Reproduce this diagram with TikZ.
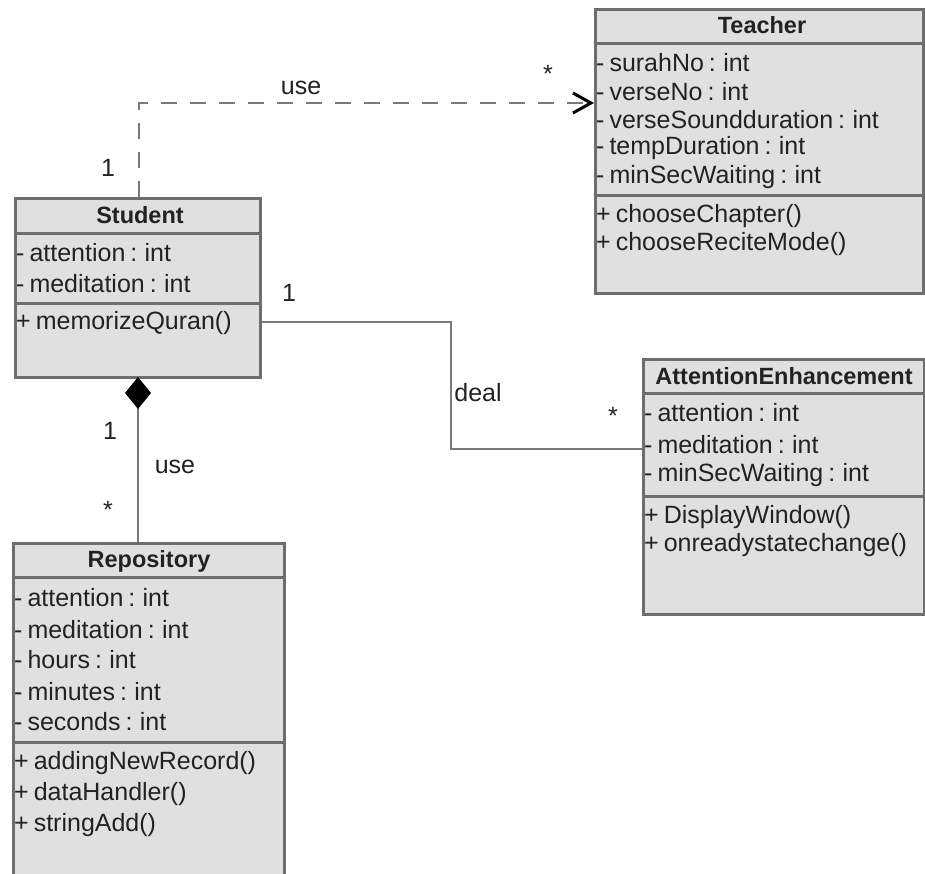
\documentclass[tikz,border=0pt]{standalone}
\usepackage{fontspec}
\setmainfont{Liberation Sans}
\usetikzlibrary{arrows.meta,calc}
\definecolor{boxfill}{HTML}{E0E0E0}
\definecolor{boxline}{HTML}{6E6E6E}
\definecolor{linkline}{HTML}{7A7A7A}
\definecolor{inkc}{HTML}{222222}
\newcommand{\memberfont}{\fontsize{25}{29}\selectfont\spaceskip=0.2em\relax}
\tikzset{
  classbox/.style={draw=boxline, line width=3pt, fill=boxfill, rectangle, inner sep=0pt, anchor=north west},
  divider/.style={draw=boxline, line width=3pt},
  member/.style={anchor=west, inner sep=0pt, text=inkc, font=\memberfont},
  ctitle/.style={inner sep=0pt, text=inkc, font=\fontsize{23.5}{28}\selectfont\bfseries},
  lbl/.style={inner sep=0pt, text=inkc, font=\fontsize{25}{29}\selectfont},
  link/.style={draw=linkline, line width=2.5pt},
  dep/.style={link, dash pattern=on 16pt off 13pt, -{Straight Barb[length=18pt,width=20pt,line width=3pt,color=black]}},
  comp/.style={link, {Diamond[length=32pt,width=26pt,fill=black,color=black]}-},
}
\begin{document}
\begin{tikzpicture}[x=1pt,y=-1pt]
\useasboundingbox (0,0) rectangle (925,873);
\clip (0,0) rectangle (925,873);
\fill[white] (0,0) rectangle (925,873);

% Teacher
\node[classbox, minimum width=328, minimum height=284] (teacher) at (594,8) {};
\draw[divider] (594,43) -- (922,43);
\draw[divider] (594,195) -- (922,195);
\node[ctitle] (teacherT) at (762,25.5) {Teacher};
\node[member] (t1) at (596,63) {- surahNo : int};
\node[member] (t2) at (596,92) {- verseNo : int};
\node[member] (t3) at (596,120) {- verseSoundduration : int};
\node[member] (t4) at (596,148) {- tempDuration : int};
\node[member] (t5) at (596,177) {- minSecWaiting : int};
\node[member] (t6) at (596,216) {+ chooseChapter()};
\node[member] (t7) at (596,244) {+ chooseReciteMode()};

% Student
\node[classbox, minimum width=245, minimum height=179] (student) at (14,197) {};
\draw[divider] (14,233) -- (259,233);
\draw[divider] (14,303) -- (259,303);
\node[ctitle] (studentT) at (140,215) {Student};
\node[member] (s1) at (16,253) {- attention : int};
\node[member] (s2) at (16,284) {- meditation : int};
\node[member] (s3) at (16,323) {+ memorizeQuran()};

% AttentionEnhancement
\node[classbox, minimum width=281, minimum height=255] (ae) at (642,358) {};
\draw[divider] (642,393) -- (923,393);
\draw[divider] (642,496) -- (923,496);
\node[ctitle] (aeT) at (784,376) {AttentionEnhancement};
\node[member] (a1) at (644,413) {- attention : int};
\node[member] (a2) at (644,445) {- meditation : int};
\node[member] (a3) at (644,475) {- minSecWaiting : int};
\node[member] (a4) at (644,517) {+ DisplayWindow()};
\node[member] (a5) at (644,545) {+ onreadystatechange()};

% Repository (continues past the lower edge)
\node[classbox, minimum width=271, minimum height=360] (repo) at (12,542) {};
\draw[divider] (12,577) -- (283,577);
\draw[divider] (12,742) -- (283,742);
\node[ctitle] (repoT) at (149,561) {Repository};
\node[member] (r1) at (14,598) {- attention : int};
\node[member] (r2) at (14,630) {- meditation : int};
\node[member] (r3) at (14,660) {- hours : int};
\node[member] (r4) at (14,692) {- minutes : int};
\node[member] (r5) at (14,722) {- seconds : int};
\node[member] (r6) at (14,763) {+ addingNewRecord()};
\node[member] (r7) at (14,794) {+ dataHandler()};
\node[member] (r8) at (14,825) {+ stringAdd()};

% Connectors
\coordinate (depBend) at (139,103);
\draw[dep] (student.north -| depBend) -- (depBend) -- (teacher.west |- depBend);
\node[lbl] (useTop) at (301,88) {use};
\node[lbl] (starTop) at (548,74) {*};
\node[lbl] (oneTop) at (108,168) {1};

\coordinate (dealBend) at (451,322);
\draw[link] (student.east |- dealBend) -- (dealBend) -- (451,449) -- (ae.west |- 0,449);
\node[lbl] (oneDeal) at (289,293) {1};
\node[lbl] (deal) at (478,393) {deal};
\node[lbl] (starDeal) at (613,416) {*};

\draw[comp] (138,377) -- (repo.north -| 138,0);
\node[lbl] (oneRepo) at (110,431) {1};
\node[lbl] (useRepo) at (175,467) {use};
\node[lbl] (starRepo) at (108,510) {*};
\end{tikzpicture}
\end{document}
